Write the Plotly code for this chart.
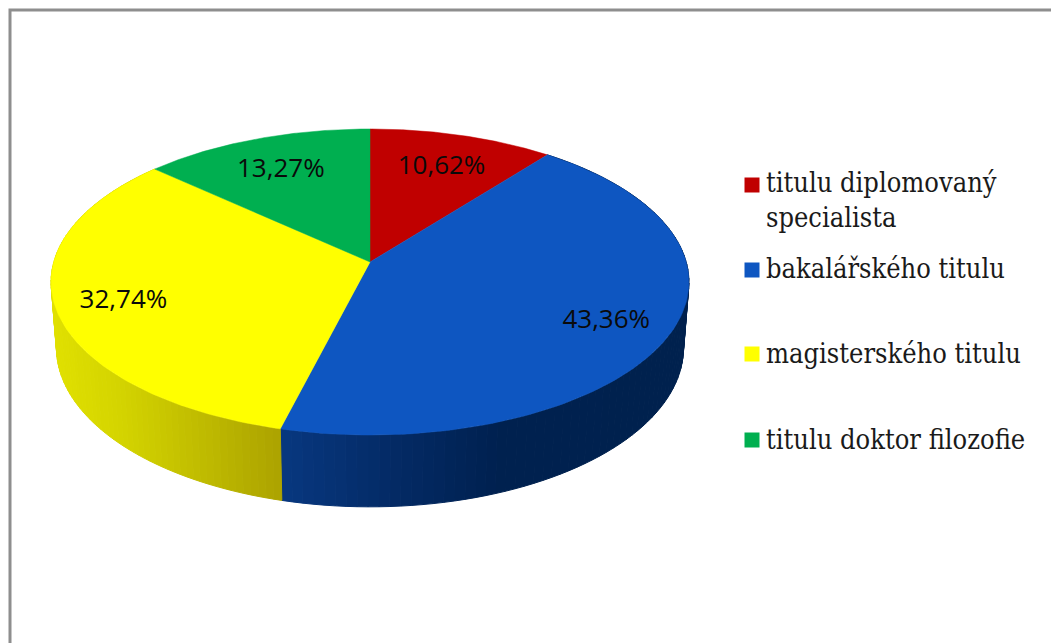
import numpy as np
import plotly.graph_objects as go

# --- data ---
categories = ["titulu diplomovaný<br>specialista", "bakalářského titulu", "magisterského titulu", "titulu doktor filozofie"]
shares = [10.62, 43.36, 32.74, 13.27]
share_labels = ["10,62%", "43,36%", "32,74%", "13,27%"]

# --- style / layout ---
TOP_COLORS = ["#C00000", "#0E56C1", "#FFFF00", "#00AF50"]
SIDE_RAMPS = {1: [(281, (8, 56, 128)), (400, (4, 42, 100)), (500, (0, 33, 80)), (700, (0, 33, 78))],
              2: [(50, (225, 225, 0)), (120, (212, 212, 0)), (281, (172, 163, 0))]}
LABEL_RADIUS = [0.755, 0.795, 0.79, 0.76]
LABEL_DY = 4
LEGEND_X = 752
LEGEND_Y = [185, 270, 354, 440]
LEGEND_TEXT_X = 766
LEGEND_TEXT_Y = [203, 271, 356, 442]
LEGEND_FONT = dict(family="DejaVu Serif Condensed, DejaVu Serif", size=27, color="#1a1a1a")
LABEL_FONT = dict(family="Open Sans", size=26, color="#0a0a0a")

# projection of the tilted disc on to the page
CX, APEX_Y, K, F, G = 370, 262, 0.1307, 316.2, 150.4
SIDE_SCALE, SIDE_DROP = 0.983, 65


def project(theta, r=1.0, side=False):
    X, Y = r * np.sin(theta), r * np.cos(theta)
    s = 1 / (1 + K * Y)
    if side:
        return CX + SIDE_SCALE * F * X * s, APEX_Y + SIDE_DROP * s - SIDE_SCALE * G * Y * s
    return CX + F * X * s, APEX_Y - G * Y * s


def ramp(stops, x):
    xs = [p[0] for p in stops]
    return "rgb(%d,%d,%d)" % tuple(np.interp(x, xs, [p[1][i] for p in stops]) for i in range(3))


fractions = np.array(shares) / sum(shares)
edges = np.concatenate([[0], np.cumsum(fractions)]) * 2 * np.pi

fig = go.Figure()

# rims (only blue and yellow are visible at the front)
for i, stops in SIDE_RAMPS.items():
    t = np.linspace(edges[i], edges[i + 1], 90)
    for a, b in zip(t[:-1], t[1:]):
        xa, ya = project(a)
        xb, yb = project(b)
        xc, yc = project(b, side=True)
        xd, yd = project(a, side=True)
        col = ramp(stops, (xa + xb) / 2)
        fig.add_trace(go.Scatter(x=[xa, xb, xc, xd, xa], y=[ya, yb, yc, yd, ya], mode="lines",
                                 fill="toself", fillcolor=col, line=dict(color=col, width=1),
                                 hoverinfo="skip", showlegend=False))

# top faces
for i, col in enumerate(TOP_COLORS):
    t = np.linspace(edges[i], edges[i + 1], 120)
    x, y = project(t)
    fig.add_trace(go.Scatter(x=np.r_[CX, x, CX], y=np.r_[APEX_Y, y, APEX_Y], mode="lines",
                             fill="toself", fillcolor=col, line=dict(color=col, width=0.5),
                             name=categories[i].replace("<br>", " "), showlegend=False,
                             hoverinfo="name"))

# data labels
mid = (edges[:-1] + edges[1:]) / 2
lx, ly = project(mid, np.array(LABEL_RADIUS))
fig.add_trace(go.Scatter(x=lx, y=ly + LABEL_DY, mode="text", text=share_labels, textposition="middle center",
                         textfont=LABEL_FONT, hoverinfo="skip", showlegend=False))

# legend
fig.add_trace(go.Scatter(x=[LEGEND_X] * 4, y=LEGEND_Y, mode="markers",
                         marker=dict(symbol="square", size=15, color=TOP_COLORS),
                         hoverinfo="skip", showlegend=False))
fig.add_trace(go.Scatter(x=[LEGEND_TEXT_X] * 4, y=LEGEND_TEXT_Y, mode="text", text=categories,
                         textposition="middle right", textfont=LEGEND_FONT,
                         hoverinfo="skip", showlegend=False))

fig.update_layout(
    width=1051, height=643, margin=dict(l=0, r=0, t=0, b=0),
    paper_bgcolor="white", plot_bgcolor="white",
    xaxis=dict(range=[0, 1051], visible=False, fixedrange=True),
    yaxis=dict(range=[643, 0], visible=False, fixedrange=True),
    shapes=[dict(type="path", path="M 10 643 L 10 10 L 1051 10", line=dict(color="#8E8E8E", width=3))],
)
fig.write_html("out.html", config=dict(displayModeBar=False),
               post_script="document.body.style.margin='0';document.documentElement.style.overflow='hidden';")
